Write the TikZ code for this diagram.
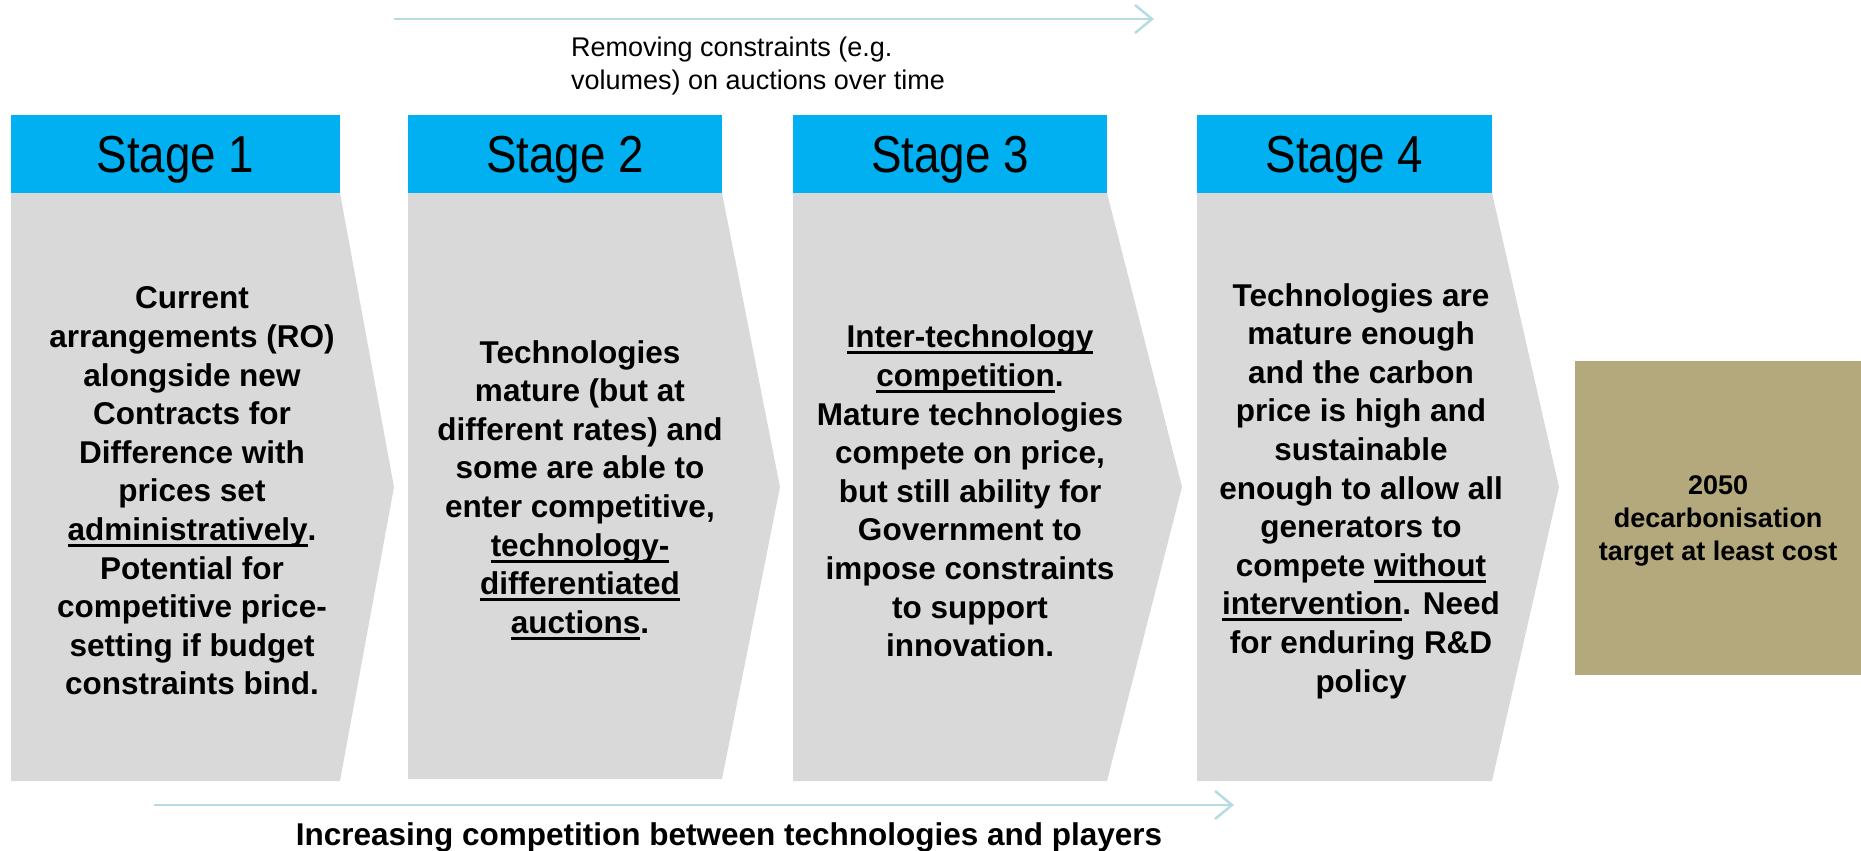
\documentclass[tikz,border=0pt]{standalone}
\usepackage{fontspec}
\setmainfont{Liberation Sans}
\newfontfamily\hdrfont[FakeStretch=0.88]{Liberation Sans}
\usetikzlibrary{arrows.meta}
\definecolor{hdrblue}{HTML}{00B0F0}
\definecolor{bodygray}{HTML}{D9D9D9}
\definecolor{goalolive}{HTML}{B3A97C}
\definecolor{trendline}{HTML}{B6DCE2}
% thick underline drawn as a rule under the word
\newcommand\ulx[1]{\setbox0\hbox{#1}\rlap{\rule[-6.5pt]{\wd0}{3pt}}\box0}
\begin{document}
\begin{tikzpicture}[x=1pt,y=-1pt,
  hdr/.style={fill=hdrblue, minimum height=78pt, inner sep=0pt,
              text height=37.2pt, text depth=0pt,
              font=\hdrfont\fontsize{52}{60}\selectfont},
  chevron/.style={fill=bodygray},
  bodytext/.style={align=center, inner sep=0pt,
                   font=\bfseries\fontsize{31.5}{38.6}\selectfont},
  trend/.style={draw=trendline, line width=2.5pt,
                -{Straight Barb[length=17pt,width=28pt]}}]
\useasboundingbox (0,0) rectangle (1861,851);

% chevron bodies
\fill[chevron] (11,193) -- (340,193) -- (394,487) -- (340,781) -- (11,781) -- cycle;
\fill[chevron] (408,193) -- (722,193) -- (780,487) -- (722,779) -- (408,779) -- cycle;
\fill[chevron] (793,193) -- (1107,193) -- (1182,487) -- (1107,781) -- (793,781) -- cycle;
\fill[chevron] (1197,193) -- (1492,193) -- (1559,487) -- (1492,781) -- (1197,781) -- cycle;

% stage headers
\node[hdr, minimum width=329pt] (h1) at (175.5,154) {Stage 1};
\node[hdr, minimum width=314pt] (h2) at (565,154) {Stage 2};
\node[hdr, minimum width=314pt] (h3) at (950,154) {Stage 3};
\node[hdr, minimum width=295pt] (h4) at (1344.5,154) {Stage 4};

% stage descriptions
\node[bodytext] (t1) at (192,491) {Current\\arrangements (RO)\\alongside new\\Contracts for\\Difference with\\prices set\\\ulx{administratively}.\\Potential for\\competitive price-\\setting if budget\\constraints bind.};
\node[bodytext] (t2) at (580,490) {Technologies\\mature (but at\\different rates) and\\some are able to\\enter competitive,\\\ulx{technology-}\\\ulx{differentiated}\\\ulx{auctions}.};
\node[bodytext] (t3) at (970,491) {\ulx{Inter-technology}\\\ulx{competition}.\\Mature technologies\\compete on price,\\but still ability for\\Government to\\impose constraints\\to support\\innovation.};
\node[bodytext] (t4) at (1361,491) {Technologies are\\mature enough\\and the carbon\\price is high and\\sustainable\\enough to allow all\\generators to\\compete \ulx{without}\\\ulx{intervention}. Need\\for enduring R\&D\\policy};

% end goal
\node[fill=goalolive, anchor=north west, minimum width=286pt, minimum height=314pt,
      inner sep=0pt, align=center, font=\bfseries\fontsize{27}{33}\selectfont,
      text depth=0pt]
  (goal) at (1575,361) {2050\\decarbonisation\\target at least cost};

% trend arrows and their labels
\coordinate (topA) at (394,19);
\coordinate (topB) at (1154,19);
\draw[trend] (topA) -- (topB);
\node[anchor=west, align=left, inner sep=0pt, font=\fontsize{27}{33}\selectfont]
  (toplabel) at (571,66) {Removing constraints (e.g.\\volumes) on auctions over time};

\coordinate (botA) at (154,805);
\coordinate (botB) at (1234,805);
\draw[trend] (botA) -- (botB);
\node[inner sep=0pt, font=\bfseries\fontsize{31.5}{38}\selectfont]
  (botlabel) at (729,837) {Increasing competition between technologies and players};
\end{tikzpicture}
\end{document}
